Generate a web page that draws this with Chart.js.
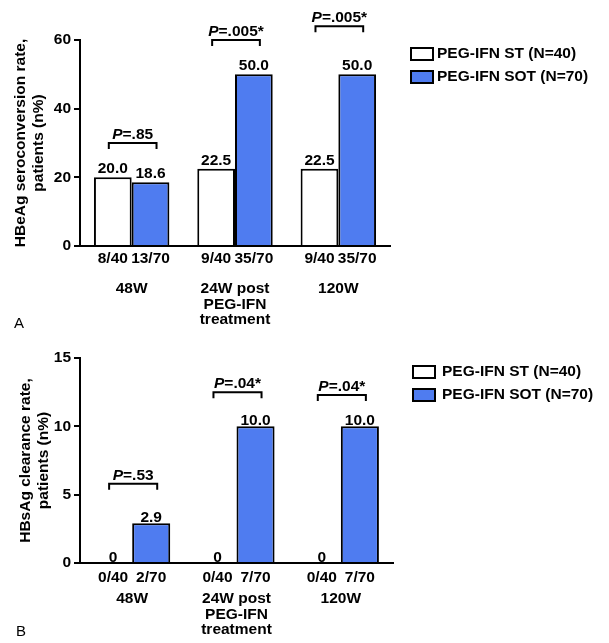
<!DOCTYPE html>
<html>
<head>
<meta charset="utf-8">
<script src="https://cdn.jsdelivr.net/npm/chart.js@4.4.0/dist/chart.umd.min.js"></script>
<style>
  body { margin: 0; background: #fff; }
  #wrap { position: relative; width: 609px; height: 643px; }
  #boxA { position: absolute; left: 0; top: 0; width: 609px; height: 330px; }
  #boxB { position: absolute; left: 0; top: 320px; width: 609px; height: 323px; }
  .tag { position: absolute; font: 15px "Liberation Sans", Arial, sans-serif; }
</style>
</head>
<body>
<div id="wrap">
  <div id="boxA"><canvas id="chartA"></canvas></div>
  <div id="boxB"><canvas id="chartB"></canvas></div>
  <div class="tag" style="left:14px;top:314px">A</div>
  <div class="tag" style="left:16px;top:622px">B</div>
</div>
<script>
const groups = [['48W'], ['24W post', 'PEG-IFN', 'treatment'], ['120W']];
const seriesNames = ['PEG-IFN ST (N=40)', 'PEG-IFN SOT (N=70)'];
const seriesColors = ['#ffffff', '#4f7cf0'];

// panel A - HBeAg seroconversion
const stRateA = [20.0, 22.5, 22.5];
const sotRateA = [18.6, 50.0, 50.0];
const stCountA = ['8/40', '9/40', '9/40'];
const sotCountA = ['13/70', '35/70', '35/70'];
const pTextA = ['.85', '.005*', '.005*'];
const pLevelA = [30, 60, 64];

// panel B - HBsAg clearance
const stRateB = [0, 0, 0];
const sotRateB = [2.9, 10.0, 10.0];
const stCountB = ['0/40', '0/40', '0/40'];
const sotCountB = ['2/70', '7/70', '7/70'];
const pTextB = ['.53', '.04*', '.04*'];
const pLevelB = [5.8, 12.5, 12.3];

const FONT = '"Liberation Sans", Arial, sans-serif';
const FS = 15.5;

// value labels, n/N counts, p-value brackets and legend
const extras = {
  id: 'extras',
  afterDraw(chart, args, opts) {
    const ctx = chart.ctx;
    const yScale = chart.scales.y;
    const st = chart.getDatasetMeta(0).data;
    const sot = chart.getDatasetMeta(1).data;
    ctx.save();
    ctx.fillStyle = '#000';
    ctx.strokeStyle = '#000';
    ctx.font = 'bold ' + FS + 'px ' + FONT;
    ctx.textAlign = 'center';

    [st, sot].forEach((bars, d) => {
      const vals = chart.data.datasets[d].data;
      const counts = d ? opts.sotCount : opts.stCount;
      bars.forEach((bar, i) => {
        ctx.textBaseline = 'alphabetic';
        ctx.fillText(vals[i] === 0 ? '0' : vals[i].toFixed(1), bar.x, bar.y - opts.labelGap);
        ctx.textBaseline = 'middle';
        ctx.fillText(counts[i], bar.x, yScale.bottom + opts.countGap);
      });
    });

    ctx.lineWidth = 2;
    opts.pLevel.forEach((lv, i) => {
      const x0 = st[i].x - 4, x1 = sot[i].x + 6;
      const by = yScale.getPixelForValue(lv);
      ctx.beginPath();
      ctx.moveTo(x0, by + 6);
      ctx.lineTo(x0, by);
      ctx.lineTo(x1, by);
      ctx.lineTo(x1, by + 6);
      ctx.stroke();

      const rest = '=' + opts.pText[i];
      ctx.font = 'italic bold ' + FS + 'px ' + FONT;
      const wp = ctx.measureText('P').width;
      ctx.font = 'bold ' + FS + 'px ' + FONT;
      const wr = ctx.measureText(rest).width;
      const sx = (x0 + x1) / 2 - (wp + wr) / 2;
      ctx.textAlign = 'left';
      ctx.textBaseline = 'alphabetic';
      ctx.font = 'italic bold ' + FS + 'px ' + FONT;
      ctx.fillText('P', sx, by - 4);
      ctx.font = 'bold ' + FS + 'px ' + FONT;
      ctx.fillText(rest, sx + wp, by - 4);
    });

    // legend
    ctx.textAlign = 'left';
    ctx.textBaseline = 'middle';
    chart.data.datasets.forEach((ds, d) => {
      const ly = opts.legendY + d * 23;
      ctx.fillStyle = ds.backgroundColor;
      ctx.fillRect(opts.legendX, ly - 6, 22, 12);
      ctx.strokeRect(opts.legendX, ly - 6, 22, 12);
      ctx.fillStyle = '#000';
      ctx.fillText(ds.label, opts.legendX + opts.legendGap, ly);
    });
    ctx.restore();
  }
};

function makeChart(id, st, sot, yMax, step, title, extra, layout) {
  return new Chart(document.getElementById(id), {
    type: 'bar',
    data: {
      labels: groups,
      datasets: [
        { label: seriesNames[0], data: st, backgroundColor: seriesColors[0] },
        { label: seriesNames[1], data: sot, backgroundColor: seriesColors[1] }
      ]
    },
    options: {
      responsive: true,
      maintainAspectRatio: false,
      animation: false,
      layout: { padding: { top: layout.top, right: layout.right, left: 0, bottom: 0 } },
      datasets: {
        bar: {
          borderColor: '#000',
          borderWidth: 2,
          barPercentage: 1,
          categoryPercentage: 0.73
        }
      },
      plugins: {
        legend: { display: false },
        tooltip: { enabled: false },
        extras: extra
      },
      scales: {
        x: {
          grid: { display: false, drawTicks: false },
          border: { display: true, color: '#000', width: 2 },
          ticks: { color: '#000', font: { family: FONT, size: FS, weight: 'bold', lineHeight: 1.0 }, padding: layout.xPad },
          afterFit(s) { s.height = layout.xHeight; }
        },
        y: {
          min: 0,
          max: yMax,
          ticks: { stepSize: step, color: '#000', font: { family: FONT, size: FS, weight: 'bold' }, padding: 3 },
          grid: { drawOnChartArea: false, drawTicks: true, tickLength: 6, color: '#000', lineWidth: 2 },
          border: { display: true, color: '#000', width: 2 },
          title: {
            display: true,
            text: title,
            color: '#000',
            font: { family: FONT, size: FS, weight: 'bold', lineHeight: 1.15 },
            padding: { top: layout.titlePad, bottom: 0 }
          },
          afterFit(s) { s.width = 80; }
        }
      }
    },
    plugins: [extras]
  });
}

makeChart('chartA', stRateA, sotRateA, 60, 20,
  ['HBeAg seroconversion rate,', 'patients (n%)'],
  { stCount: stCountA, sotCount: sotCountA, pText: pTextA, pLevel: pLevelA, labelGap: 4, countGap: 13,
    legendX: 411, legendY: 54, legendGap: 26 },
  { top: 40, right: 219, xHeight: 84, xPad: 35, titlePad: 12 });

makeChart('chartB', stRateB, sotRateB, 15, 5,
  ['HBsAg clearance rate,', 'patients (n%)'],
  { stCount: stCountB, sotCount: sotCountB, pText: pTextB, pLevel: pLevelB, labelGap: 1, countGap: 15,
    legendX: 413, legendY: 52, legendGap: 29 },
  { top: 38, right: 216, xHeight: 80, xPad: 28, titlePad: 17 });
</script>
</body>
</html>
